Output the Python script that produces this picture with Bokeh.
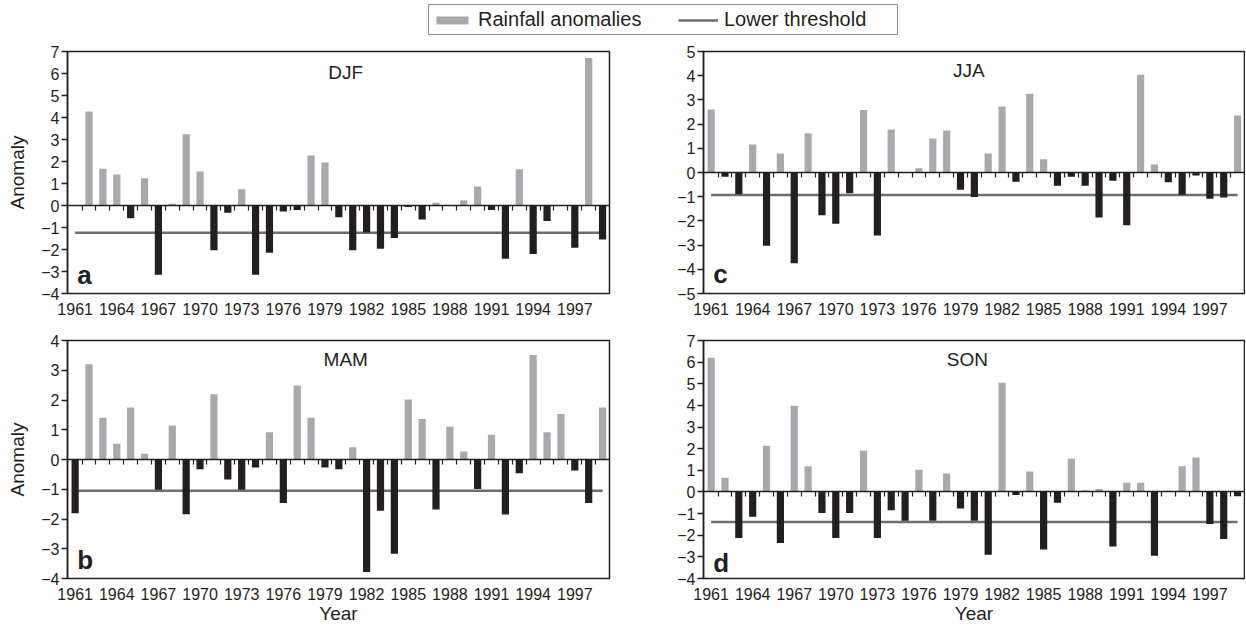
from bokeh.plotting import figure
from bokeh.layouts import column, row
from bokeh.models import (ColumnDataSource, FixedTicker, LinearAxis, Range1d,
                          Legend, LegendItem, Label)
from bokeh.embed import file_html
from bokeh.resources import INLINE

years = list(range(1961, 2000))
tick_years = list(range(1961, 1998, 3))

djf = [0.0, 4.27, 1.67, 1.41, -0.58, 1.24, -3.15, 0.08, 3.24, 1.55,
       -2.03, -0.33, 0.74, -3.15, -2.15, -0.27, -0.2, 2.27, 1.95, -0.53,
       -2.03, -1.23, -1.97, -1.48, -0.07, -0.64, 0.12, 0.0, 0.24, 0.86,
       -0.21, -2.42, 1.65, -2.21, -0.7, 0.0, -1.92, 6.7, -1.55]
mam = [-1.81, 3.2, 1.4, 0.53, 1.75, 0.19, -1.02, 1.14, -1.84, -0.33,
       2.19, -0.67, -1.02, -0.27, 0.92, -1.46, 2.49, 1.4, -0.27, -0.33,
       0.41, -3.78, -1.72, -3.17, 2.02, 1.36, -1.68, 1.1, 0.27, -0.99,
       0.83, -1.85, -0.46, 3.51, 0.92, 1.53, -0.37, -1.46, 1.75]
jja = [2.6, -0.18, -0.9, 1.16, -3.03, 0.79, -3.75, 1.62, -1.77, -2.12,
       -0.86, 2.58, -2.6, 1.78, 0.0, 0.18, 1.41, 1.74, -0.71, -1.01,
       0.79, 2.73, -0.38, 3.25, 0.55, -0.55, -0.18, -0.55, -1.86, -0.34,
       -2.18, 4.04, 0.33, -0.4, -0.92, -0.12, -1.08, -1.03, 2.36]
son = [6.2, 0.66, -2.13, -1.15, 2.13, -2.36, 3.99, 1.19, -0.97, -2.13,
       -0.97, 1.9, -2.13, -0.85, -1.33, 1.03, -1.33, 0.85, -0.77, -1.33,
       -2.9, 5.05, -0.14, 0.95, -2.66, -0.5, 1.53, 0.08, 0.14, -2.52,
       0.42, 0.42, -2.95, 0.05, 1.19, 1.59, -1.48, -2.18, -0.2]

thr_djf = -1.24
thr_mam = -1.05
thr_jja = -0.93
thr_son = -1.39

GRAY = "#a7a9ac"
BLACK = "#231f20"
THR = "#6d6e71"
FONT = "Liberation Sans"


def make_panel(values, thr, ylo, yhi, season, letter, is_left, is_bottom,
               season_pos, letter_y, height, min_top, min_bottom):
    width = 633 if is_left else 612
    p = figure(width=width, height=height, output_backend="svg",
               toolbar_location=None,
               x_range=Range1d(1960.45, 1999.5), y_range=Range1d(ylo, yhi),
               min_border_left=67 if is_left else 70,
               min_border_right=24 if is_left else 1,
               min_border_top=min_top, min_border_bottom=min_bottom)
    p.grid.visible = False
    p.outline_line_color = BLACK
    p.outline_line_width = 1.5
    p.outline_line_alpha = 1.0

    colors = [GRAY if v > 0 else BLACK for v in values]
    src = ColumnDataSource(dict(year=years, value=values, color=colors))

    p.line(x=years, y=[thr] * len(years), line_color=THR, line_width=2.5)
    p.vbar(x="year", top="value", bottom=0, width=0.52, source=src,
           fill_color="color", line_color=None)

    # x axis (labels only)
    xa = p.xaxis[0]
    xa.ticker = FixedTicker(ticks=tick_years)
    xa.major_tick_line_color = None
    xa.minor_tick_line_color = None
    xa.axis_line_color = None
    xa.major_label_standoff = 3
    xa.major_label_text_font = FONT
    xa.major_label_text_font_size = "16px"
    xa.major_label_text_color = BLACK
    if is_bottom:
        xa.axis_label = "Year"
        xa.axis_label_standoff = 0
        xa.axis_label_text_font = FONT
        xa.axis_label_text_font_size = "19px"
        xa.axis_label_text_font_style = "normal"
        xa.axis_label_text_color = BLACK

    # y axis
    ya = p.yaxis[0]
    yt = list(range(ylo, yhi + 1))
    ya.ticker = FixedTicker(ticks=yt)
    ya.major_label_overrides = {t: (("\u2212" + str(-t)) if t < 0 else str(t)) for t in yt}
    ya.minor_tick_line_color = None
    ya.major_tick_out = 6
    ya.major_tick_in = 0
    ya.major_tick_line_color = BLACK
    ya.major_tick_line_width = 1.5
    ya.axis_line_color = BLACK
    ya.axis_line_width = 1.5
    ya.major_label_standoff = 2
    ya.major_label_text_font = FONT
    ya.major_label_text_font_size = "16px"
    ya.major_label_text_color = BLACK
    if is_left:
        ya.axis_label = "Anomaly"
        ya.axis_label_standoff = 10
        ya.axis_label_text_font = FONT
        ya.axis_label_text_font_size = "19px"
        ya.axis_label_text_font_style = "normal"
        ya.axis_label_text_color = BLACK

    # zero line with small ticks between years
    zero = LinearAxis(fixed_location=0,
                      ticker=FixedTicker(ticks=[], minor_ticks=[y + 0.5 for y in years[:-1]]),
                      axis_line_color=BLACK, axis_line_width=1.5,
                      major_tick_line_color=None,
                      minor_tick_line_color=BLACK, minor_tick_line_width=1.2,
                      minor_tick_out=5, minor_tick_in=0)
    p.add_layout(zero, "below")

    p.add_layout(Label(x=season_pos[0], y=season_pos[1], text=season,
                       text_align="center", text_baseline="middle",
                       text_font=FONT, text_font_size="19px", text_color=BLACK))
    p.add_layout(Label(x=1961.15, y=letter_y, text=letter,
                       text_align="left", text_baseline="middle",
                       text_font=FONT, text_font_size="26px",
                       text_font_style="bold", text_color=BLACK))
    return p


pa = make_panel(djf, thr_djf, -4, 7, "DJF", "a", True, False,
                (1980.5, 6.05), -3.14, 289, 9, 38)
pc = make_panel(jja, thr_jja, -5, 5, "JJA", "c", False, False,
                (1979.6, 4.2), -4.21, 289, 9, 38)
pb = make_panel(mam, thr_mam, -4, 4, "MAM", "b", True, True,
                (1980.5, 3.35), -3.38, 295, 9, 44)
pd = make_panel(son, thr_son, -4, 7, "SON", "d", False, True,
                (1979.5, 6.1), -3.27, 295, 9, 44)

# legend strip
leg = figure(width=1245, height=42, output_backend="svg", toolbar_location=None,
             x_range=Range1d(0, 1), y_range=Range1d(0, 1),
             x_axis_location=None, y_axis_location=None, min_border=0)
leg.outline_line_color = None
leg.grid.visible = False
r1 = leg.vbar(x=[5], top=[5], bottom=[4], width=0.5, fill_color=GRAY, line_color=None)
r2 = leg.line(x=[5, 6], y=[5, 5], line_color=THR, line_width=2.5)
legend = Legend(items=[LegendItem(label="Rainfall anomalies", renderers=[r1]),
                       LegendItem(label="Lower threshold", renderers=[r2])],
                orientation="horizontal", location=(428, 7),
                glyph_width=40, glyph_height=10, label_standoff=6,
                label_width=170, spacing=30, padding=3, margin=0,
                label_text_font=FONT, label_text_font_size="20px",
                label_text_color=BLACK, border_line_color=BLACK,
                border_line_width=1, background_fill_alpha=1.0)
leg.add_layout(legend, "center")

layout = column(leg, row(pa, pc), row(pb, pd))
open("out.html", "w").write(file_html(layout, INLINE))
